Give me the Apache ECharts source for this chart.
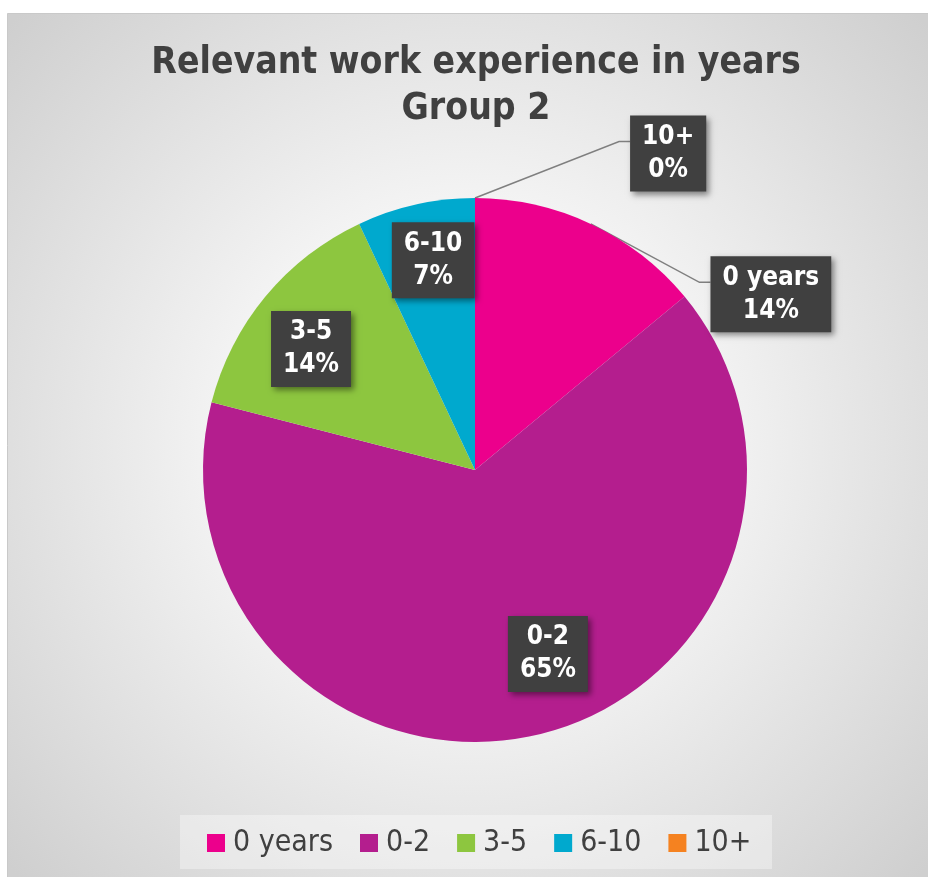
<!DOCTYPE html>
<html>
<head>
<meta charset="utf-8">
<style>
  html, body { margin: 0; padding: 0; background: #ffffff; }
  #chart { width: 928px; height: 877px; }
</style>
<script src="https://cdn.jsdelivr.net/npm/echarts@6/dist/echarts.min.js"></script>
</head>
<body>
<div id="chart"></div>
<script>
// Experience bands and their share of group 2 (percent)
const categories = ['0 years', '0-2', '3-5', '6-10', '10+'];
const shares = [14, 65, 14, 7, 0];
const sliceColors = ['#EC008C', '#B41E8E', '#8DC63F', '#00A9CE', '#F58220'];

const titleLines = ['Relevant work experience in years', 'Group 2'];

// Label placement: angle clockwise from 12 o'clock and distance as a fraction of the radius
const labelPlacement = [
  { angle: 59.3, dist: 1.265, outside: true },
  { angle: 158.4, dist: 0.728, outside: false },
  { angle: 306.4, dist: 0.749, outside: false },
  { angle: 348.7, dist: 0.786, outside: false },
  { angle: 31.4, dist: 1.363, outside: true }
];

const FONT = '"DejaVu Sans Condensed", "DejaVu Sans", sans-serif';
const W = 928, H = 877;
const CENTER = [475, 470];
const RADIUS = 272;

const total = shares.reduce((s, v) => s + v, 0);
// Mid-angle of each slice, degrees clockwise from 12 o'clock
const midAngles = [];
shares.reduce((acc, v) => {
  midAngles.push((acc + v / 2) / total * 360);
  return acc + v;
}, 0);

function polar(angleDeg, r) {
  const a = angleDeg * Math.PI / 180;
  return [CENTER[0] + r * Math.sin(a), CENTER[1] - r * Math.cos(a)];
}

const chart = echarts.init(document.getElementById('chart'), null, { renderer: 'canvas' });

const data = categories.map((name, i) => ({
  name: name,
  value: shares[i],
  itemStyle: { color: sliceColors[i] },
  label: { position: labelPlacement[i].outside ? 'outside' : 'inside' },
  labelLine: { show: labelPlacement[i].outside }
}));

chart.setOption({
  animation: false,
  backgroundColor: '#ffffff',
  graphic: [
    {
      type: 'rect',
      z: -10,
      shape: { x: 7.5, y: 13.5, width: W - 7, height: H - 13 },
      style: {
        stroke: '#c9c9c9',
        lineWidth: 1,
        fill: new echarts.graphic.RadialGradient(0.5, 0.5, 0.72, [
          { offset: 0, color: '#ffffff' },
          { offset: 0.35, color: '#f6f6f6' },
          { offset: 1, color: '#cfcfcf' }
        ])
      }
    },
    {
      type: 'rect',
      z: -5,
      shape: { x: 180, y: 815, width: 592, height: 54 },
      style: { fill: 'rgba(255,255,255,0.35)' }
    }
  ],
  title: {
    text: titleLines.join('\n'),
    left: 471,
    textAlign: 'center',
    top: 35,
    textStyle: {
      fontFamily: FONT,
      fontWeight: 'bold',
      fontSize: 37,
      lineHeight: 46,
      color: '#404040'
    }
  },
  legend: {
    bottom: 14,
    left: 202,
    itemWidth: 18,
    itemHeight: 18,
    itemGap: 27,
    icon: 'rect',
    textStyle: {
      fontFamily: FONT,
      fontSize: 30,
      color: '#404040',
      padding: [0, 0, 0, 3]
    },
    data: categories
  },
  series: [
    {
      type: 'pie',
      center: CENTER,
      radius: RADIUS,
      startAngle: 90,
      clockwise: true,
      data: data,
      label: {
        show: true,
        formatter: '{b}\n{d}%',
        fontFamily: FONT,
        fontWeight: 'bold',
        fontSize: 26,
        lineHeight: 33,
        color: '#ffffff',
        backgroundColor: '#404040',
        padding: [6, 12, 4, 12],
        align: 'center',
        shadowBlur: 6,
        shadowColor: 'rgba(0,0,0,0.45)',
        shadowOffsetX: 3,
        shadowOffsetY: 3
      },
      labelLine: {
        length: 20,
        length2: 11,
        lineStyle: { color: '#7f7f7f', width: 1.5 }
      },
      labelLayout: function (params) {
        const i = params.dataIndex;
        const p = labelPlacement[i];
        const pos = polar(p.angle, p.dist * RADIUS);
        const out = {
          x: pos[0],
          y: pos[1],
          align: 'center',
          verticalAlign: 'middle'
        };
        if (p.outside) {
          // Leader line: from the slice edge to an elbow just left of the box
          const start = polar(midAngles[i], RADIUS);
          const boxLeft = pos[0] - params.labelRect.width / 2;
          const lineY = pos[1] - 12;
          out.labelLinePoints = [start, [boxLeft - 11, lineY], [boxLeft, lineY]];
        }
        return out;
      },
      emphasis: { disabled: true }
    }
  ]
});
</script>
</body>
</html>
